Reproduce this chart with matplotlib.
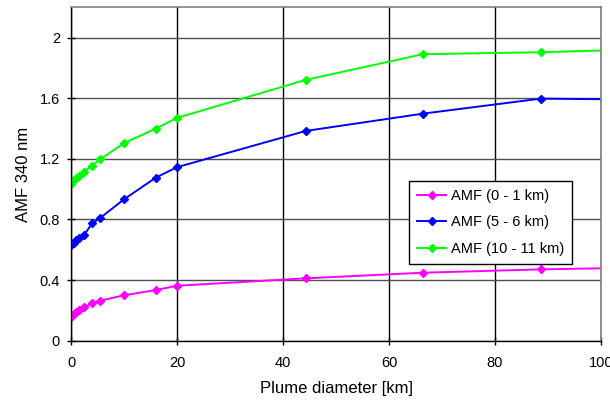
import matplotlib
matplotlib.use("Agg")
import matplotlib.pyplot as plt

plt.rcParams['font.family'] = ['Liberation Sans', 'DejaVu Sans']

# plume diameter [km]
diam = [0, 0.5, 1, 1.5, 2.5, 4, 5.5, 10, 16, 20, 44.3, 66.4, 88.6, 110.7]

amf_0_1 = [0.16, 0.18, 0.19, 0.20, 0.22, 0.25, 0.265, 0.30, 0.335, 0.363, 0.412, 0.449, 0.471, 0.485]
amf_5_6 = [0.63, 0.645, 0.665, 0.68, 0.70, 0.775, 0.81, 0.933, 1.076, 1.145, 1.384, 1.498, 1.597, 1.59]
amf_10_11 = [1.035, 1.06, 1.075, 1.09, 1.116, 1.155, 1.197, 1.303, 1.40, 1.47, 1.721, 1.89, 1.903, 1.925]

series = [
    ('AMF (0 - 1 km)', amf_0_1, '#ff00ff'),
    ('AMF (5 - 6 km)', amf_5_6, '#0000ff'),
    ('AMF (10 - 11 km)', amf_10_11, '#00ff00'),
]

fig = plt.figure(figsize=(6.1, 4.0), dpi=100)
ax = fig.add_axes([0.1164, 0.148, 0.8689, 0.834])

for label, vals, col in series:
    ax.plot(diam, vals, color=col, lw=1.4, marker='D', ms=4.5, mec=col, mfc=col, label=label)

ax.set_xlim(0, 100)
ax.set_ylim(0, 2.2)
ax.set_xticks([0, 20, 40, 60, 80, 100])
ax.set_yticks([0, 0.4, 0.8, 1.2, 1.6, 2.0])
ax.set_yticklabels(['0', '0.4', '0.8', '1.2', '1.6', '2'])

ax.yaxis.grid(True, color='#505050', lw=1.0)
ax.xaxis.grid(True, color='black', lw=1.0)
ax.set_axisbelow(True)

for s in ['top', 'right']:
    ax.spines[s].set_color('#808080')
    ax.spines[s].set_linewidth(1.2)
for s in ['left', 'bottom']:
    ax.spines[s].set_color('black')
    ax.spines[s].set_linewidth(1.0)

ax.tick_params(axis='both', direction='inout', length=6, width=1.0, labelsize=10.5, colors='black')
ax.tick_params(axis='x', pad=8)
ax.tick_params(axis='y', pad=5)

ax.set_xlabel('Plume diameter [km]', fontsize=12, labelpad=8)
ax.set_ylabel('AMF 340 nm', fontsize=12, labelpad=6)

leg = ax.legend(loc='upper left', bbox_to_anchor=(0.638, 0.479), borderaxespad=0,
                fontsize=10.5, frameon=True,
                fancybox=False, edgecolor='black', framealpha=1, handlelength=2.0,
                handletextpad=0.3, borderpad=0.55, labelspacing=0.85, markerscale=0.8)
leg.get_frame().set_linewidth(1.0)

fig.savefig('out.png', dpi=100)
